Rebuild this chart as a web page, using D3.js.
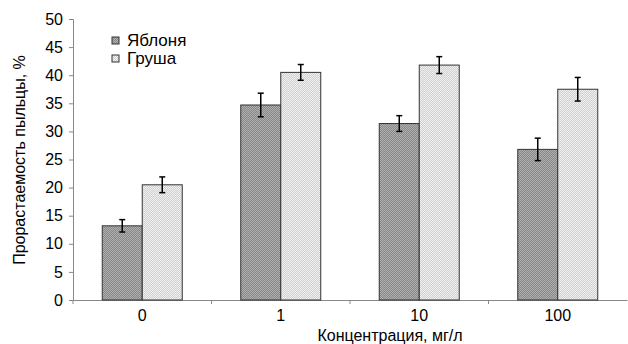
<!DOCTYPE html>
<meta charset="utf-8">
<script src="https://cdnjs.cloudflare.com/ajax/libs/d3/7.8.5/d3.min.js"></script>
<style>
body { margin: 0; background: #fff; }
text { font-family: "Liberation Sans", Arial, sans-serif; fill: #000; }
</style>
<body>
<script>

// data
var conc = ["0", "1", "10", "100"];
var series = ["Яблоня", "Груша"];
var apple = [13.2, 34.7, 31.4, 26.8];
var appleErr = [1.1, 2.1, 1.4, 2.0];
var pear = [20.5, 40.5, 41.8, 37.5];
var pearErr = [1.4, 1.4, 1.5, 2.1];
var yTicks = [0, 5, 10, 15, 20, 25, 30, 35, 40, 45, 50];

var margin = {top: 19, right: 1, bottom: 44, left: 73},
  width = 628 - margin.left - margin.right,
  height = 344 - margin.top - margin.bottom;

var svg = d3.select("body").append("svg")
  .attr("width", 628)
  .attr("height", 344);

// dotted fills
var defs = svg.append("defs");
function pattern(id, a, b) {
  var p = defs.append("pattern").attr("id", id)
    .attr("width", 2).attr("height", 2)
    .attr("patternUnits", "userSpaceOnUse");
  p.append("rect").attr("width", 2).attr("height", 2).attr("fill", a);
  p.append("rect").attr("width", 1).attr("height", 1).attr("fill", b);
  p.append("rect").attr("x", 1).attr("y", 1).attr("width", 1).attr("height", 1).attr("fill", b);
}
pattern("dark", "#878787", "#b0b0b0");
pattern("light", "#d0d0d0", "#f0f0f0");
var fills = ["url(#dark)", "url(#light)"];

var g = svg.append("g")
  .attr("transform", "translate(" + margin.left + "," + margin.top + ")");

var x = d3.scaleBand().domain(conc).range([0, width]);
var xs = d3.scaleBand().domain(series).range([0, 80]);
var y = d3.scaleLinear().domain([0, 50]).range([height, 0]);

// axes
var yAxis = g.append("g")
  .call(d3.axisLeft(y).tickValues(yTicks).tickSize(4).tickPadding(6));
yAxis.select(".domain").attr("stroke", "#888");
yAxis.selectAll(".tick line").attr("stroke", "#888");
yAxis.selectAll("text").style("font-size", "16px").attr("fill", "#000");

var xAxis = g.append("g")
  .attr("transform", "translate(0," + height + ")")
  .call(d3.axisBottom(x).tickSize(0).tickPadding(10));
xAxis.select(".domain").attr("stroke", "#888");
xAxis.selectAll("text").style("font-size", "16px").attr("fill", "#000");
xAxis.selectAll(".sep").data(conc).enter().append("line")
  .attr("x1", function(d) { return x(d); })
  .attr("x2", function(d) { return x(d); })
  .attr("y1", 0).attr("y2", 4)
  .attr("stroke", "#888");

// bars
var rows = [];
conc.forEach(function(c, i) {
  rows.push({c: c, s: series[0], v: apple[i], e: appleErr[i], k: 0});
  rows.push({c: c, s: series[1], v: pear[i], e: pearErr[i], k: 1});
});

var off = (x.bandwidth() - 80) / 2;

g.selectAll(".bar").data(rows).enter().append("rect")
  .attr("class", "bar")
  .attr("x", function(d) { return x(d.c) + off + xs(d.s); })
  .attr("y", function(d) { return y(d.v); })
  .attr("width", xs.bandwidth())
  .attr("height", function(d) { return height - y(d.v); })
  .attr("fill", function(d) { return fills[d.k]; })
  .attr("stroke", "#333")
  .attr("stroke-width", 1);

// error bars
var eb = g.selectAll(".err").data(rows).enter().append("g")
  .attr("transform", function(d) { return "translate(" + (x(d.c) + off + xs(d.s) + xs.bandwidth() / 2) + ",0)"; });
eb.append("line")
  .attr("y1", function(d) { return y(d.v + d.e); })
  .attr("y2", function(d) { return y(d.v - d.e); })
  .attr("stroke", "#000").attr("stroke-width", 1.5);
eb.append("line").attr("x1", -3).attr("x2", 3)
  .attr("y1", function(d) { return y(d.v + d.e); })
  .attr("y2", function(d) { return y(d.v + d.e); })
  .attr("stroke", "#000").attr("stroke-width", 1.5);
eb.append("line").attr("x1", -3).attr("x2", 3)
  .attr("y1", function(d) { return y(d.v - d.e); })
  .attr("y2", function(d) { return y(d.v - d.e); })
  .attr("stroke", "#000").attr("stroke-width", 1.5);

// legend
var leg = svg.append("g").attr("transform", "translate(112,37)");
series.forEach(function(s, i) {
  leg.append("rect").attr("x", 0).attr("y", i * 18)
    .attr("width", 7).attr("height", 7)
    .attr("fill", fills[i]).attr("stroke", "#333");
  leg.append("text").attr("x", 15).attr("y", i * 18 + 9)
    .style("font-size", "17px").text(s);
});

// titles
svg.append("text")
  .attr("x", 390).attr("y", 341)
  .style("text-anchor", "middle").style("font-size", "16px")
  .text("Концентрация, мг/л");

svg.append("text")
  .attr("transform", "translate(25,160) rotate(-90)")
  .style("text-anchor", "middle").style("font-size", "16px")
  .text("Прорастаемость пыльцы, %");

</script>
</body>
</html>
